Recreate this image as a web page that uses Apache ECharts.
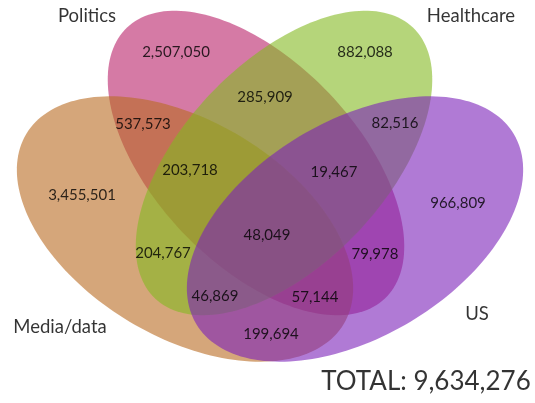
<!DOCTYPE html>
<html><head><meta charset="utf-8">
<script src="https://cdn.jsdelivr.net/npm/echarts@6/dist/echarts.min.js"></script>
<style>html,body{margin:0;padding:0;background:#fff}#c{width:535px;height:403px}</style>
</head><body><div id="c"></div>
<script>
// Sets: name, ellipse centre x, centre y, semi-major, semi-minor, rotation (deg, screen, clockwise)
var setNames = ['Politics', 'Media/data', 'Healthcare', 'US'];
var setColors = ['#b92169', '#b96b21', '#84b921', '#7b21b9'];
var setEllipses = [
  [256, 163, 187, 101, 46.4],
  [185, 229, 185, 108, 30.9],
  [284, 163, 187, 101, -46.4],
  [355, 229, 185, 108, -30.9]
];
var setLabelPos = [[87, 16], [60, 327], [471, 16], [477, 314]];

// Region counts and their label positions
var regionValues = ['2,507,050', '882,088', '285,909', '537,573', '82,516', '203,718', '19,467',
  '3,455,501', '966,809', '48,049', '204,767', '79,978', '46,869', '57,144', '199,694'];
var regionPos = [[176, 52], [365, 52], [265, 97], [143, 124], [395, 123], [190, 170], [334, 172],
  [82, 195], [458, 203], [267, 235], [163, 253], [375, 254], [215, 296], [315, 297], [271, 334]];

var totalText = 'TOTAL: 9,634,276';
var totalPos = [426, 382];

var ellipseData = setEllipses.map(function (e, i) { return { value: e, itemStyle: { color: setColors[i] } }; });

var chart = echarts.init(document.getElementById('c'), null, { renderer: 'canvas' });
chart.setOption({
  animation: false,
  grid: { left: 0, right: 0, top: 0, bottom: 0 },
  xAxis: { type: 'value', min: 0, max: 535, show: false },
  yAxis: { type: 'value', min: 0, max: 403, inverse: true, show: false },
  series: [
    {
      type: 'custom',
      data: ellipseData,
      renderItem: function (params, api) {
        var cx = api.value(0), cy = api.value(1), a = api.value(2), b = api.value(3), r = api.value(4) * Math.PI / 180;
        var pts = [];
        for (var k = 0; k < 180; k++) {
          var t = k / 180 * Math.PI * 2;
          var x = a * Math.cos(t), y = b * Math.sin(t);
          pts.push(api.coord([cx + x * Math.cos(r) - y * Math.sin(r), cy + x * Math.sin(r) + y * Math.cos(r)]));
        }
        return { type: 'polygon', shape: { points: pts }, style: { fill: api.visual('color'), opacity: 0.6 } };
      }
    },
    {
      type: 'scatter', symbolSize: 0, silent: true,
      data: regionPos.map(function (p, i) { return { value: p, name: regionValues[i] }; }),
      label: { show: true, position: 'inside', formatter: '{b}', color: '#000', fontSize: 15, fontFamily: 'Lato' }
    },
    {
      type: 'scatter', symbolSize: 0, silent: true,
      data: setLabelPos.map(function (p, i) { return { value: p, name: setNames[i] }; }),
      label: { show: true, position: 'inside', formatter: '{b}', color: '#000', fontSize: 18.5, fontFamily: 'Lato' }
    },
    {
      type: 'scatter', symbolSize: 0, silent: true,
      data: [{ value: totalPos, name: totalText }],
      label: { show: true, position: 'inside', formatter: '{b}', color: '#000', fontSize: 26, fontFamily: 'Lato' }
    }
  ]
});
</script></body></html>
